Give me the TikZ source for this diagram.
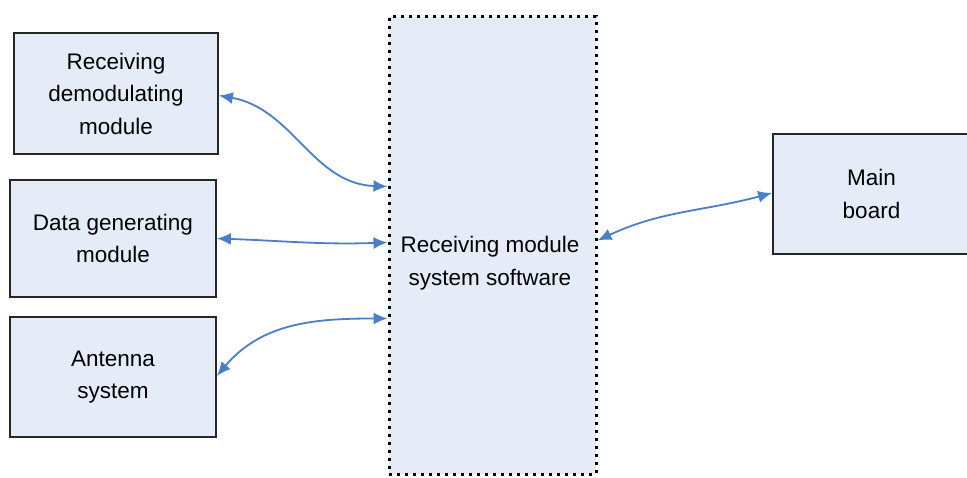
\documentclass[tikz,border=0pt]{standalone}
\usepackage{fontspec}
\setmainfont{Liberation Sans}
\usetikzlibrary{arrows.meta}
\definecolor{boxfill}{HTML}{E6ECF7}
\definecolor{linkblue}{HTML}{4A7EC8}
\tikzset{
  block/.style={draw=black!85, line width=1.8pt, fill=boxfill, align=center,
    inner sep=0pt, font=\fontsize{22.5}{32.5}\selectfont},
  swblock/.style={draw=black, line width=3pt, dash pattern=on 3pt off 5pt,
    fill=boxfill, inner sep=0pt},
  label/.style={align=center, font=\fontsize{22.5}{32.5}\selectfont},
  link/.style={draw=linkblue, line width=1.8pt,
    {Latex[length=14pt,width=12pt]}-{Latex[length=14pt,width=12pt]}}
}
\begin{document}
\begin{tikzpicture}[x=1pt,y=-1pt]
\useasboundingbox (0,0) rectangle (967,478);
\fill[white] (0,0) rectangle (967,478);

% software block in the middle
\node[swblock, minimum width=207pt, minimum height=457pt] (sw) at (492.5,245.5) {};
\node[label] (swtext) at (490,263) {Receiving module\\system software};

% modules on the left
\node[block, minimum width=204pt, minimum height=121pt] (rdm) at (116,93.5)
  {Receiving\\demodulating\\module};
\node[block, minimum width=206pt, minimum height=117pt] (dgm) at (113,238.5)
  {Data generating\\module};
\node[block, minimum width=206pt, minimum height=120pt] (ant) at (113,377)
  {Antenna\\system};

% main board on the right
\node[block, minimum width=197pt, minimum height=120pt] (mb) at (871.5,194)
  {Main\\board};

% links
\draw[link] ([yshift=-2pt]rdm.east) to[out=-10,in=178] ([yshift=59pt]sw.west);
\draw[link] (dgm.east) to[out=-2,in=182] ([yshift=3pt]sw.west);
\draw[link] ([yshift=1pt]ant.east) to[out=50,in=180] ([yshift=-73pt]sw.west);
\draw[link] ([yshift=5pt]sw.east) to[out=25,in=195] ([yshift=1pt]mb.west);
\end{tikzpicture}
\end{document}
